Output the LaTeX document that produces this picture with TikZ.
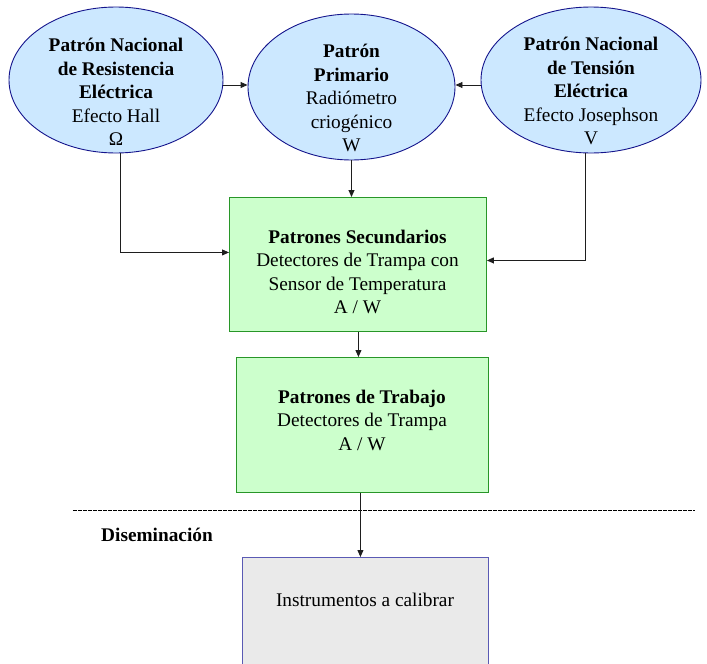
\documentclass[tikz,border=0pt]{standalone}
\usepackage{fontspec}
\setmainfont{Liberation Serif}
\usetikzlibrary{shapes.geometric,arrows.meta,calc}
\definecolor{ellfill}{RGB}{204,232,255}
\definecolor{ellline}{RGB}{20,20,140}
\definecolor{grfill}{RGB}{204,255,204}
\definecolor{grline}{RGB}{40,150,40}
\definecolor{gyfill}{RGB}{234,234,234}
\definecolor{gyline}{RGB}{90,90,180}
\definecolor{conn}{RGB}{30,30,30}
\begin{document}
\begin{tikzpicture}[x=1pt,y=-1pt,
  ell/.style={ellipse,draw=ellline,fill=ellfill,line width=0.9pt,inner sep=0pt},
  txt/.style={align=center,font=\fontsize{19.3}{23.5}\selectfont,text=black,inner sep=0pt},
  gbox/.style={rectangle,draw=grline,fill=grfill,line width=0.9pt,inner sep=0pt,anchor=north west},
  ybox/.style={rectangle,draw=gyline,fill=gyfill,line width=0.9pt,inner sep=0pt,anchor=north west},
  arr/.style={draw=conn,line width=0.9pt,-{Triangle[length=7pt,width=6pt]}},
  sep/.style={draw=black,line width=0.7pt,dash pattern=on 3.5pt off 1.5pt}]
\useasboundingbox (0,0) rectangle (707,664);
\clip (0,0) rectangle (707,664);
% ellipses
\node[ell,minimum width=214pt,minimum height=146pt] (L) at (116,80) {};
\node[ell,minimum width=207pt,minimum height=146pt] (M) at (351.5,87) {};
\node[ell,minimum width=220pt,minimum height=146pt] (R) at (591,80) {};
\node[txt] (Lt) at (116,92) {\textbf{Patrón Nacional}\\\textbf{de Resistencia}\\\textbf{Eléctrica}\\Efecto Hall\\Ω};
\node[txt] (Mt) at (351.5,98) {\textbf{Patrón}\\\textbf{Primario}\\Radiómetro\\criogénico\\W};
\node[txt] (Rt) at (591,91) {\textbf{Patrón Nacional}\\\textbf{de Tensión}\\\textbf{Eléctrica}\\Efecto Josephson\\V};
% boxes
\node[gbox,minimum width=257pt,minimum height=134pt] (S1) at (229,197) {};
\node[txt] (S1t) at (357.5,272) {\textbf{Patrones Secundarios}\\Detectores de Trampa con\\Sensor de Temperatura\\A / W};
\node[gbox,minimum width=252pt,minimum height=135pt] (S2) at (236,357) {};
\node[txt] (S2t) at (362,420) {\textbf{Patrones de Trabajo}\\Detectores de Trampa\\A / W};
\node[ybox,minimum width=246pt,minimum height=140pt] (G) at (242,557) {};
\node[txt] (Gt) at (365,600) {Instrumentos a calibrar};
\node[txt] (D) at (157,535) {\textbf{Diseminación}};
% separator
\coordinate (d1) at (73,510);
\coordinate (d2) at (695,510);
\draw[sep] (d1) -- (d2);
% connectors
\draw[arr] (L.east |- 0,85) -- (M.west |- 0,85);
\draw[arr] (R.west |- 0,85) -- (M.east |- 0,85);
\draw[arr] (M.south) -- (M.south |- S1.north);
\draw[arr] ([xshift=4pt]L.south) |- ([yshift=12pt]S1.west);
\draw[arr] ([xshift=-6pt]R.south) |- ([yshift=4pt]S1.east);
\draw[arr] ([xshift=0.5pt]S1.south) -- ([xshift=0.5pt]S1.south |- S2.north);
\draw[arr] ([xshift=-2pt]S2.south) -- ([xshift=-2pt]S2.south |- G.north);
\end{tikzpicture}
\end{document}
